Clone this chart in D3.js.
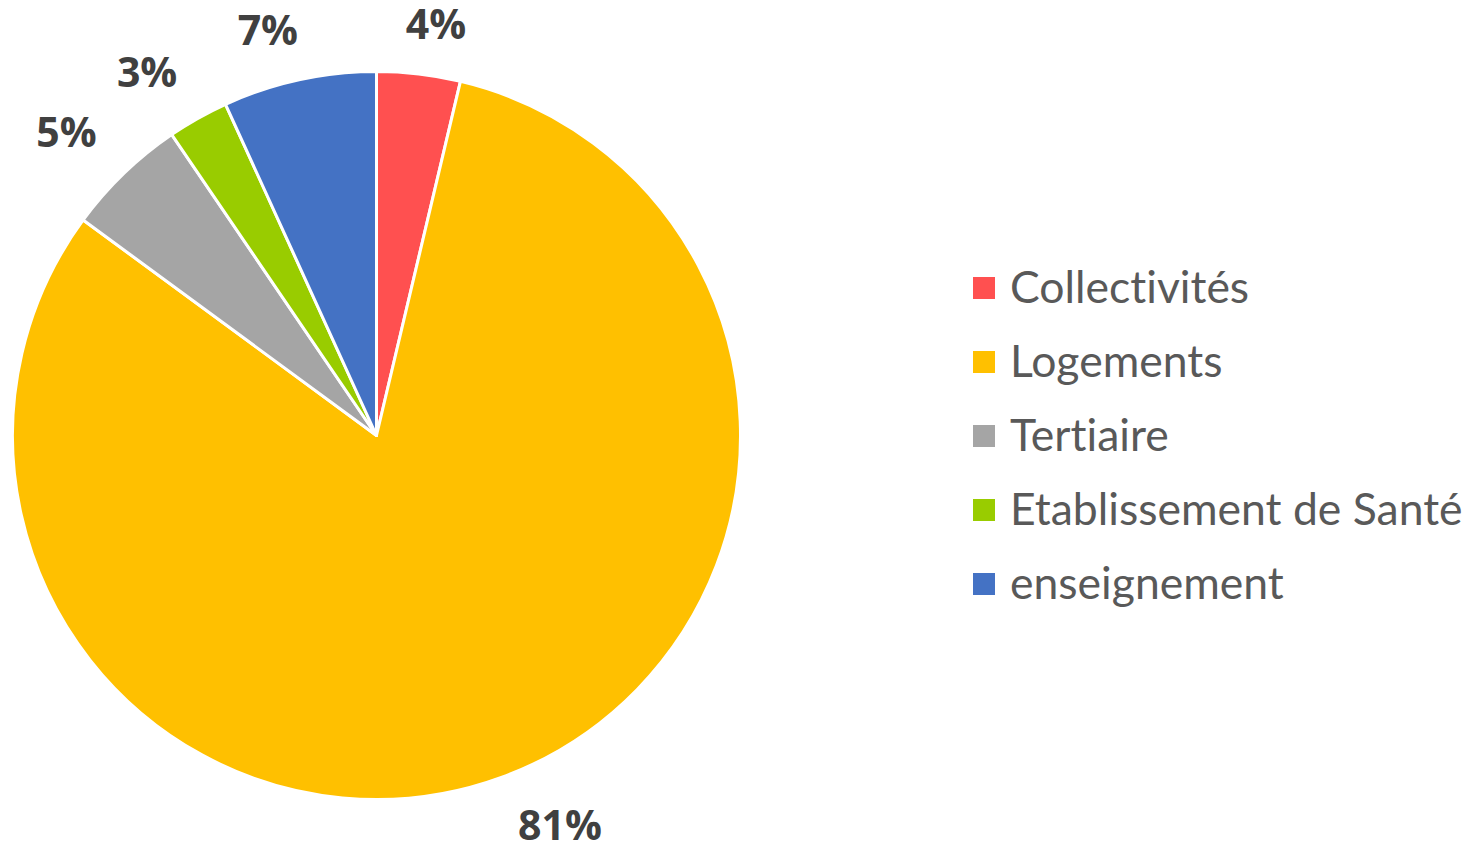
<!DOCTYPE html>
<html>
<head>
<meta charset="utf-8">
<script src="https://cdn.jsdelivr.net/npm/d3@7"></script>
<style>
  html, body { margin: 0; padding: 0; background: #fff; }
  svg { display: block; }
  text { font-variant-ligatures: none; font-feature-settings: "liga" 0, "clig" 0; }
</style>
</head>
<body>
<svg id="chart" width="1484" height="847"></svg>
<script>
const categories = ["Collectivités", "Logements", "Tertiaire", "Etablissement de Santé", "enseignement"];
const values = [3.7, 81.3, 5.4, 2.7, 6.8];
const colors = ["#FF5050", "#FFC000", "#A5A5A5", "#99CC00", "#4472C4"];

const svg = d3.select("#chart");
const cx = 376.5, cy = 435.5, radius = 364;

const data = categories.map((c, i) => ({ name: c, value: values[i], color: colors[i] }));
const total = d3.sum(values);

const pie = d3.pie().value(d => d.value).sort(null);
const arcs = pie(data);
const arc = d3.arc().innerRadius(0).outerRadius(radius);

const g = svg.append("g").attr("transform", `translate(${cx},${cy})`);

g.selectAll("path.slice")
  .data(arcs)
  .enter().append("path")
  .attr("class", "slice")
  .attr("d", arc)
  .attr("fill", d => d.data.color)
  .attr("stroke", "#ffffff")
  .attr("stroke-width", 3)
  .attr("stroke-linejoin", "round");

// percentage labels (outside end)
const pctSize = 41;
const labelArc = d3.arc().innerRadius(radius + 32).outerRadius(radius + 32);
const labels = g.selectAll("text.pct")
  .data(arcs)
  .enter().append("text")
  .attr("class", "pct")
  .attr("font-family", "'Open Sans', 'DejaVu Sans', sans-serif")
  .attr("font-weight", "bold")
  .attr("font-size", pctSize)
  .attr("fill", "#404040")
  .attr("text-anchor", "middle")
  .text(d => Math.round(d.data.value / total * 100) + "%");

labels.each(function(d) {
  const w = this.getComputedTextLength();
  const [ax, ay] = labelArc.centroid(d);
  const mid = (d.startAngle + d.endAngle) / 2;
  const s = Math.sin(mid), c = Math.cos(mid);
  const fx = Math.min(1, Math.abs(s) * 3.3);
  const fy = Math.min(1, Math.abs(c) * 3.3);
  const halfW = w / 2 + 5, halfH = 18;
  const x = ax + Math.sign(s) * fx * halfW;
  const yc = ay - Math.sign(c) * fy * halfH;
  d3.select(this).attr("x", x).attr("y", yc + pctSize * 0.714 / 2);
});

// legend
const legend = svg.append("g").attr("transform", "translate(973,277)");
const rowH = 74;
const items = legend.selectAll("g.item")
  .data(data)
  .enter().append("g")
  .attr("class", "item")
  .attr("transform", (d, i) => `translate(0,${i * rowH})`);

items.append("rect")
  .attr("width", 22)
  .attr("height", 22)
  .attr("fill", d => d.color);

items.append("text")
  .attr("x", 37)
  .attr("y", 26)
  .attr("font-family", "Lato, 'Open Sans', sans-serif")
  .attr("font-size", 44.5)
  .attr("fill", "#595959")
  .text(d => d.name);
</script>
</body>
</html>
